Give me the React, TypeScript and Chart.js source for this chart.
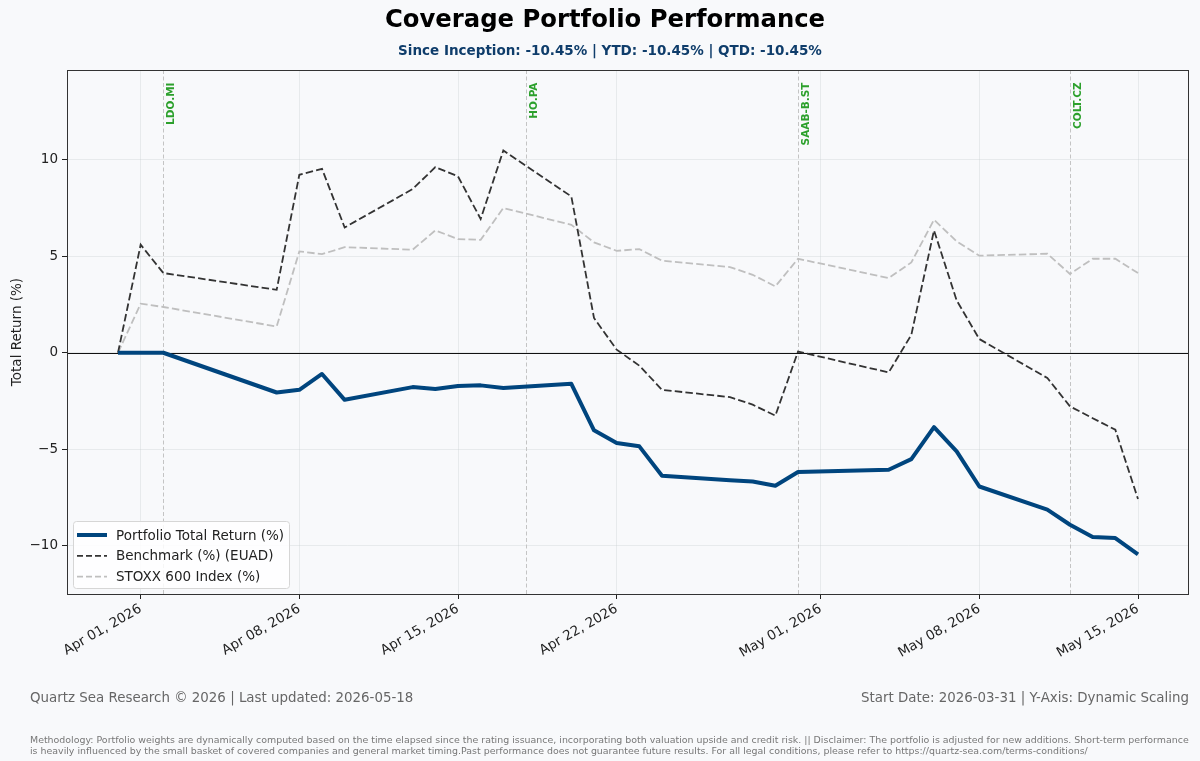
import React, { useEffect, useRef } from "react";
import { Chart, registerables } from "chart.js";

Chart.register(...registerables);

const DATES = [
  "2026-03-31", "2026-04-01", "2026-04-02", "2026-04-07", "2026-04-08", "2026-04-09", "2026-04-10",
  "2026-04-13", "2026-04-14", "2026-04-15", "2026-04-16", "2026-04-17", "2026-04-20", "2026-04-21",
  "2026-04-22", "2026-04-23", "2026-04-24", "2026-04-27", "2026-04-28", "2026-04-29", "2026-04-30",
  "2026-05-04", "2026-05-05", "2026-05-06", "2026-05-07", "2026-05-08", "2026-05-11", "2026-05-12",
  "2026-05-13", "2026-05-14", "2026-05-15",
];

const PORTFOLIO = [
  0, 0, 0, -2.06, -1.92, -1.1, -2.44, -1.78, -1.88, -1.72, -1.69, -1.83, -1.61, -4.02, -4.68, -4.85,
  -6.37, -6.61, -6.67, -6.89, -6.18, -6.06, -5.51, -3.85, -5.11, -6.93, -8.13, -8.91, -9.55, -9.6, -10.45,
];

const BENCHMARK = [
  0, 5.6, 4.13, 3.26, 9.22, 9.53, 6.49, 8.48, 9.62, 9.14, 6.93, 10.48, 8.1, 1.8, 0.16, -0.67,
  -1.92, -2.3, -2.69, -3.26, 0.06, -1.02, 0.93, 6.34, 2.71, 0.71, -1.31, -2.78, -3.39, -3.99, -7.58,
];

const STOXX = [
  0, 2.54, 2.37, 1.36, 5.25, 5.11, 5.47, 5.34, 6.34, 5.89, 5.85, 7.5, 6.63, 5.72, 5.28, 5.37,
  4.77, 4.44, 4.04, 3.44, 4.87, 3.87, 4.68, 6.89, 5.77, 5.03, 5.13, 4.08, 4.87, 4.87, 4.13,
];

const MARKER_DATES = ["2026-04-02", "2026-04-18", "2026-04-30", "2026-05-12"];
const MARKER_LABELS = ["LDO.MI", "HO.PA", "SAAB-B.ST", "COLT.CZ"];

const X_TICK_DATES = ["2026-04-01", "2026-04-08", "2026-04-15", "2026-04-22", "2026-05-01", "2026-05-08", "2026-05-15"];
const Y_TICKS = [-10, -5, 0, 5, 10];

const SERIES_LABELS = ["Portfolio Total Return (%)", "Benchmark (%) (EUAD)", "STOXX 600 Index (%)"];

const MONTHS = ["Jan", "Feb", "Mar", "Apr", "May", "Jun", "Jul", "Aug", "Sep", "Oct", "Nov", "Dec"];
const START = Date.UTC(2026, 2, 31);
const DAY = 86400000;

function dayOffset(s: string): number {
  const [y, m, d] = s.split("-").map(Number);
  return Math.round((Date.UTC(y, m - 1, d) - START) / DAY);
}
function fmtDay(v: number): string {
  const dt = new Date(START + v * DAY);
  const d = dt.getUTCDate();
  return `${MONTHS[dt.getUTCMonth()]} ${d < 10 ? "0" + d : d}, ${dt.getUTCFullYear()}`;
}

const FONT = "'DejaVu Sans', sans-serif";
const BG = "#f8f9fb";
const PORT_COLOR = "#00457e";
const BENCH_COLOR = "#333333";
const STOXX_COLOR = "#bfbfbf";
const FS = 13.5;

export default function App() {
  const ref = useRef<HTMLCanvasElement | null>(null);

  useEffect(() => {
    document.body.style.margin = "0";
    document.body.style.background = BG;
    const canvas = ref.current;
    if (!canvas) return;

    const xs = DATES.map(dayOffset);
    const toPts = (arr: number[]) => arr.map((v, i) => ({ x: xs[i], y: v }));

    const overlay = {
      id: "overlay",
      beforeDatasetsDraw(chart: any) {
        const { ctx, chartArea: a, scales } = chart;
        ctx.save();
        ctx.strokeStyle = "#c4c4c4";
        ctx.lineWidth = 1;
        ctx.setLineDash([4, 2.5]);
        MARKER_DATES.forEach((d) => {
          const px = Math.round(scales.x.getPixelForValue(dayOffset(d))) + 0.5;
          ctx.beginPath();
          ctx.moveTo(px, a.top);
          ctx.lineTo(px, a.bottom);
          ctx.stroke();
        });
        ctx.setLineDash([]);
        // zero line
        const zy = Math.round(scales.y.getPixelForValue(0)) + 0.5;
        ctx.strokeStyle = "#111";
        ctx.lineWidth = 1.1;
        ctx.beginPath();
        ctx.moveTo(a.left, zy);
        ctx.lineTo(a.right, zy);
        ctx.stroke();
        ctx.restore();
      },
      afterDatasetsDraw(chart: any) {
        const { ctx, chartArea: a, scales } = chart;
        ctx.save();
        // marker labels
        ctx.fillStyle = "#2ca02c";
        ctx.font = `bold 10.5px ${FONT}`;
        ctx.textAlign = "right";
        ctx.textBaseline = "middle";
        MARKER_DATES.forEach((d, i) => {
          const px = scales.x.getPixelForValue(dayOffset(d));
          ctx.save();
          ctx.translate(px + 8, a.top + 12.5);
          ctx.rotate(-Math.PI / 2);
          ctx.fillText(MARKER_LABELS[i], 0, 0);
          ctx.restore();
        });
        // frame
        ctx.strokeStyle = "#333";
        ctx.lineWidth = 1;
        ctx.strokeRect(Math.round(a.left) + 0.5, Math.round(a.top) + 0.5, Math.round(a.right - a.left) - 1, Math.round(a.bottom - a.top));
        // legend
        const bx = a.left + 6;
        const bw = 216;
        const bh = 67;
        const by = a.bottom - 6 - bh;
        ctx.fillStyle = "rgba(255,255,255,0.85)";
        ctx.strokeStyle = "#d6d6d6";
        ctx.lineWidth = 1;
        ctx.beginPath();
        (ctx as any).roundRect(bx + 0.5, by + 0.5, bw, bh, 3);
        ctx.fill();
        ctx.stroke();
        const styles = [
          { c: PORT_COLOR, w: 4, dash: [] as number[] },
          { c: BENCH_COLOR, w: 1.8, dash: [6, 3] },
          { c: STOXX_COLOR, w: 1.8, dash: [6, 3] },
        ];
        ctx.font = `${FS}px ${FONT}`;
        ctx.textAlign = "left";
        ctx.textBaseline = "middle";
        SERIES_LABELS.forEach((lab, i) => {
          const ly = by + 14 + i * 20.8;
          const s = styles[i];
          ctx.strokeStyle = s.c;
          ctx.lineWidth = s.w;
          ctx.setLineDash(s.dash);
          ctx.beginPath();
          ctx.moveTo(bx + 4, ly);
          ctx.lineTo(bx + 34, ly);
          ctx.stroke();
          ctx.setLineDash([]);
          ctx.fillStyle = "#222";
          ctx.fillText(lab, bx + 43, ly + 1);
        });
        ctx.restore();
      },
    };

    const chart = new Chart(canvas, {
      type: "line",
      data: {
        datasets: [
          {
            label: SERIES_LABELS[0],
            data: toPts(PORTFOLIO),
            borderColor: PORT_COLOR,
            borderWidth: 4,
            pointRadius: 0,
            tension: 0,
            borderJoinStyle: "round",
            order: 0,
          },
          {
            label: SERIES_LABELS[1],
            data: toPts(BENCHMARK),
            borderColor: BENCH_COLOR,
            borderWidth: 1.8,
            borderDash: [7.5, 3.2],
            pointRadius: 0,
            tension: 0,
            order: 1,
          },
          {
            label: SERIES_LABELS[2],
            data: toPts(STOXX),
            borderColor: STOXX_COLOR,
            borderWidth: 1.8,
            borderDash: [7.5, 3.2],
            pointRadius: 0,
            tension: 0,
            order: 2,
          },
        ],
      },
      options: {
        animation: false,
        responsive: false,
        maintainAspectRatio: false,
        devicePixelRatio: 1,
        layout: { padding: { top: 70, right: 11, left: 0, bottom: 67 } },
        plugins: {
          legend: { display: false },
          tooltip: { enabled: false },
          title: { display: false },
        },
        scales: {
          x: {
            type: "linear",
            min: -2.25,
            max: 47.25,
            afterBuildTicks(scale: any) {
              scale.ticks = X_TICK_DATES.map((d) => ({ value: dayOffset(d) }));
            },
            afterFit(scale: any) {
              scale.height = 100;
            },
            ticks: {
              autoSkip: false,
              maxRotation: 30,
              minRotation: 30,
              padding: 2,
              color: "#222",
              font: { family: FONT, size: FS },
              callback: (v: any) => fmtDay(Number(v)),
            },
            grid: {
              color: "rgba(200,205,210,0.35)",
              lineWidth: 1,
              drawTicks: true,
              tickLength: 5,
              tickColor: "#222",
            },
            border: { display: false },
          },
          y: {
            type: "linear",
            min: -12.5,
            max: 14.65,
            afterBuildTicks(scale: any) {
              scale.ticks = Y_TICKS.map((v) => ({ value: v }));
            },
            afterFit(scale: any) {
              scale.width = 67;
            },
            title: {
              display: true,
              text: "Total Return (%)",
              color: "#222",
              font: { family: FONT, size: FS },
              padding: { top: 9, bottom: 0 },
            },
            ticks: {
              padding: 4,
              color: "#222",
              font: { family: FONT, size: FS },
              callback: (v: any) => String(v).replace("-", "\u2212"),
            },
            grid: {
              color: "rgba(200,205,210,0.35)",
              lineWidth: 1,
              drawTicks: true,
              tickLength: 5,
              tickColor: "#222",
            },
            border: { display: false },
          },
        },
      },
      plugins: [overlay],
    });

    return () => chart.destroy();
  }, []);

  const abs: React.CSSProperties = { position: "absolute", whiteSpace: "nowrap", fontFamily: FONT };

  return (
    <div style={{ position: "relative", width: 1200, height: 761, background: BG, overflow: "hidden" }}>
      <canvas ref={ref} width={1200} height={761} style={{ position: "absolute", left: 0, top: 0, width: 1200, height: 761 }} />
      <div style={{ ...abs, left: 0, width: 1210, top: 4, textAlign: "center", fontSize: 24.3, fontWeight: "bold", lineHeight: "30px", color: "#000" }}>
        Coverage Portfolio Performance
      </div>
      <div style={{ ...abs, left: 0, width: 1220, top: 41, textAlign: "center", fontSize: FS, fontWeight: "bold", lineHeight: "18px", color: "#0f3d6b" }}>
        Since Inception: -10.45% | YTD: -10.45% | QTD: -10.45%
      </div>
      <div style={{ ...abs, left: 30, top: 689, fontSize: 13.4, lineHeight: "18px", color: "#666" }}>
        Quartz Sea Research © 2026 | Last updated: 2026-05-18
      </div>
      <div style={{ ...abs, right: 11, top: 689, fontSize: 13.4, lineHeight: "18px", color: "#666", textAlign: "right" }}>
        Start Date: 2026-03-31 | Y-Axis: Dynamic Scaling
      </div>
      <div style={{ ...abs, left: 30, top: 734, fontSize: 9.43, lineHeight: "11px", color: "#777" }}>
        Methodology: Portfolio weights are dynamically computed based on the time elapsed since the rating issuance, incorporating both valuation upside and credit risk. || Disclaimer: The portfolio is adjusted for new additions. Short-term performance
        <br />
        is heavily influenced by the small basket of covered companies and general market timing.Past performance does not guarantee future results. For all legal conditions, please refer to https://quartz-sea.com/terms-conditions/
      </div>
    </div>
  );
}
